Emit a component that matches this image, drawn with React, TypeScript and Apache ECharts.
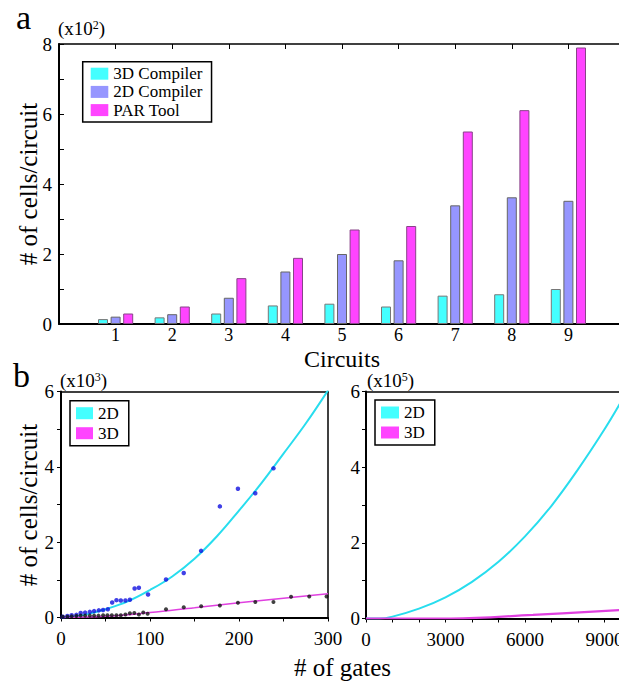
import React, { useEffect, useRef } from "react";
import * as echarts from "echarts";

// ---- Panel a: bar chart (values in x10^2 cells/circuit) ----
const circuits = ["1", "2", "3", "4", "5", "6", "7", "8", "9"];
const compiler3D = [0.14, 0.19, 0.3, 0.53, 0.58, 0.5, 0.81, 0.85, 1.0];
const compiler2D = [0.21, 0.28, 0.75, 1.5, 2.0, 1.82, 3.39, 3.62, 3.52];
const parTool = [0.3, 0.5, 1.31, 1.89, 2.7, 2.8, 5.5, 6.11, 7.9];
const topYLabels = [0, 2, 4, 6, 8];

// ---- Panel b left: measured points (x10^3 cells/circuit) ----
const gates2D = [1.9, 7.2, 12.0, 17.3, 22.1, 27.1, 32.4, 37.2, 42.5, 47.3, 52.6, 57.5, 62.3, 67.2, 72.4, 77.4, 82.7, 87.5, 97.8, 118, 137.9, 157.4, 178.5, 198.8, 218.3, 238.7];
const cells2D = [0.02, 0.04, 0.06, 0.07, 0.12, 0.13, 0.15, 0.17, 0.19, 0.2, 0.22, 0.4, 0.46, 0.45, 0.45, 0.47, 0.77, 0.79, 0.61, 1.01, 1.18, 1.77, 2.95, 3.42, 3.3, 3.96];
const gates3D = [1.9, 7.2, 12.0, 17.3, 22.1, 27.1, 32.4, 37.2, 42.1, 47.3, 52.2, 57.1, 62.3, 67.2, 72.4, 77.4, 82.4, 87.5, 92.4, 97.3, 118, 137.9, 157.5, 178.5, 198.8, 218.3, 238.7, 258.5, 278.9, 298.4];
const cells3D = [0.02, 0.02, 0.03, 0.04, 0.05, 0.05, 0.05, 0.05, 0.05, 0.06, 0.06, 0.06, 0.06, 0.06, 0.08, 0.11, 0.12, 0.08, 0.13, 0.1, 0.22, 0.27, 0.3, 0.32, 0.39, 0.41, 0.41, 0.55, 0.56, 0.56];
// fitted curves
const fitGates2DLeft = [0, 10, 30, 50, 75, 100, 125, 150, 175, 200, 225, 250, 275, 300];
const fitCells2DLeft = [0, 0.01, 0.09, 0.22, 0.43, 0.73, 1.09, 1.56, 2.15, 2.84, 3.56, 4.35, 5.15, 6.03];
const fitGates3DLeft = [0, 50, 100, 150, 200, 250, 300];
const fitCells3DLeft = [0, 0.03, 0.13, 0.26, 0.39, 0.51, 0.63];
const leftXLabels = [0, 100, 200, 300];
const bottomYLabels = [0, 2, 4, 6];

// ---- Panel b right: extrapolated curves (x10^5 cells/circuit) ----
const fitGates2DRight = [0, 500, 1000, 2000, 3000, 4000, 5000, 6000, 7000, 8000, 9000, 9700];
const fitCells2DRight = [0, 0, 0.05, 0.26, 0.56, 0.97, 1.5, 2.17, 2.98, 3.94, 5.0, 5.82];
const fitGates3DRight = [0, 3200, 6300, 9700];
const fitCells3DRight = [0, 0, 0.095, 0.23];
const rightXLabels = [0, 3000, 6000, 9000];

const FONT = "'Liberation Serif', 'Times New Roman', Times, serif";
const CYAN = "#44FFFF";
const LAV = "#9696FF";
const MAG = "#FF44FF";
const CYAN_LINE = "#28DDEE";
const MAG_LINE = "#E040E0";

const zip = (a: number[], b: number[]) => a.map((v, i) => [v, b[i]]);

export default function App() {
  const ref = useRef<HTMLDivElement>(null);
  useEffect(() => {
    if (!ref.current) return;
    const chart = echarts.init(ref.current, undefined, { renderer: "svg" });
    const lineAxis = { lineStyle: { color: "#000", width: 2 } };
    const lbl = (fmt: (v: any) => string, margin: number, size = 19) => ({
      fontFamily: FONT,
      fontSize: size,
      lineHeight: 16,
      color: "#000",
      margin,
      formatter: fmt,
    });
    const borderAxis = (grid: number, pos: string, type: string, extra: any = {}) => ({
      gridIndex: grid,
      position: pos,
      type,
      axisLine: { show: true, onZero: false, lineStyle: { color: "#000", width: 1.5 } },
      axisTick: { show: false },
      axisLabel: { show: false },
      splitLine: { show: false },
      ...extra,
    });
    const catData = ["", ...circuits, " "];
    const pad = (arr: number[]) => ["-", ...arr, "-"];
    const legendText = { fontFamily: FONT, fontSize: 17, color: "#000" };
    const supText = (x: number, y: number, exp: string) => ({
      type: "text",
      x,
      y,
      style: {
        text: `{a|(x10}{s|${exp}}{a|)}`,
        verticalAlign: "middle",
        align: "left",
        rich: {
          a: { fontFamily: FONT, fontSize: 19, fill: "#000", lineHeight: 19 },
          s: { fontFamily: FONT, fontSize: 12, fill: "#000", verticalAlign: "top", lineHeight: 12 },
        },
      },
    });
    const title = (text: string, x: number, y: number, rot = 0, size = 25) => ({
      type: "text",
      x,
      y,
      rotation: rot,
      style: { text, fontFamily: FONT, fontSize: size, lineHeight: 18, fill: "#000", align: "center", verticalAlign: "middle" },
    });
    const gridBase = { outerBoundsMode: "none", containLabel: false };

    chart.setOption({
      animation: false,
      backgroundColor: "#fff",
      grid: [
        { ...gridBase, left: 59, top: 44, width: 566, height: 280 },
        { ...gridBase, left: 61, top: 391.5, width: 267, height: 226 },
        { ...gridBase, left: 366, top: 391.5, width: 265, height: 227 },
      ],
      xAxis: [
        {
          gridIndex: 0,
          type: "category",
          data: catData,
          boundaryGap: false,
          position: "bottom",
          axisLine: lineAxis,
          axisTick: { show: false },
          axisLabel: lbl((v: string) => v, 2.5, 18),
          splitLine: { show: false },
        },
        borderAxis(0, "top", "category", {
          data: catData,
          boundaryGap: false,
          axisTick: { show: true, inside: true, length: 5, interval: 0, lineStyle: { color: "#000" } },
        }),
        {
          gridIndex: 1,
          type: "value",
          min: 0,
          max: 300,
          interval: 50,
          axisLine: { onZero: false, ...lineAxis },
          axisTick: { show: true, length: 4, lineStyle: { color: "#000" } },
          axisLabel: lbl((v: number) => (leftXLabels.includes(v) ? String(v) : ""), 13),
          splitLine: { show: false },
        },
        borderAxis(1, "top", "value", { min: 0, max: 300 }),
        {
          gridIndex: 2,
          type: "value",
          min: 0,
          max: 10000,
          interval: 1000,
          axisLine: { onZero: false, ...lineAxis },
          axisTick: { show: true, length: 4, lineStyle: { color: "#000" } },
          axisLabel: lbl((v: number) => (rightXLabels.includes(v) ? String(v) : ""), 13),
          splitLine: { show: false },
        },
        borderAxis(2, "top", "value", { min: 0, max: 10000 }),
      ],
      yAxis: [
        {
          gridIndex: 0,
          type: "value",
          min: 0,
          max: 8,
          interval: 1,
          axisLine: { show: true, ...lineAxis },
          axisTick: { show: true, inside: true, length: 5, lineStyle: { color: "#000" } },
          axisLabel: lbl((v: number) => (topYLabels.includes(v) ? String(v) : ""), 7),
          splitLine: { show: false },
        },
        borderAxis(0, "right", "value", {
          min: 0,
          max: 8,
          interval: 1,
          axisTick: { show: true, inside: true, length: 5, lineStyle: { color: "#000" } },
        }),
        {
          gridIndex: 1,
          type: "value",
          min: 0,
          max: 6,
          interval: 1,
          axisLine: { show: true, ...lineAxis },
          axisTick: { show: true, length: 4, lineStyle: { color: "#000" } },
          axisLabel: lbl((v: number) => (bottomYLabels.includes(v) ? String(v) : ""), 7),
          splitLine: { show: false },
        },
        borderAxis(1, "right", "value", { min: 0, max: 6 }),
        {
          gridIndex: 2,
          type: "value",
          min: 0,
          max: 6,
          interval: 1,
          axisLine: { show: true, ...lineAxis },
          axisTick: { show: true, length: 4, lineStyle: { color: "#000" } },
          axisLabel: lbl((v: number) => (bottomYLabels.includes(v) ? String(v) : ""), 6),
          splitLine: { show: false },
        },
        borderAxis(2, "right", "value", { min: 0, max: 6 }),
      ],
      legend: [
        {
          left: 82.7,
          top: 61.7,
          orient: "vertical",
          icon: "rect",
          itemWidth: 17.6,
          itemHeight: 12,
          itemGap: 1.2,
          padding: [3.5, 9, 3.5, 8],
          borderColor: "#000",
          borderWidth: 1.5,
          textStyle: legendText,
          selectedMode: false,
          data: [
            { name: "3D Compiler", itemStyle: { color: CYAN, borderWidth: 0 } },
            { name: "2D Compiler", itemStyle: { color: LAV, borderWidth: 0 } },
            { name: "PAR Tool", itemStyle: { color: MAG, borderWidth: 0 } },
          ],
        },
        {
          left: 70,
          top: 400.7,
          orient: "vertical",
          icon: "rect",
          itemWidth: 17,
          itemHeight: 12,
          itemGap: 3,
          padding: [4, 10, 4, 6],
          borderColor: "#000",
          borderWidth: 1.5,
          textStyle: legendText,
          selectedMode: false,
          data: [
            { name: "2D", itemStyle: { color: CYAN, borderWidth: 0 } },
            { name: "3D", itemStyle: { color: MAG, borderWidth: 0 } },
          ],
        },
        {
          left: 375,
          top: 400,
          orient: "vertical",
          icon: "rect",
          itemWidth: 18,
          itemHeight: 12,
          itemGap: 3,
          padding: [4, 10, 4, 6],
          borderColor: "#000",
          borderWidth: 1.5,
          textStyle: legendText,
          selectedMode: false,
          data: [
            { name: "2D", itemStyle: { color: CYAN, borderWidth: 0 } },
            { name: "3D", itemStyle: { color: MAG, borderWidth: 0 } },
          ],
        },
      ],
      series: [
        {
          name: "3D Compiler",
          type: "bar",
          xAxisIndex: 0,
          yAxisIndex: 0,
          barWidth: 10,
          barGap: "26%",
          data: pad(compiler3D),
          itemStyle: { color: CYAN, borderColor: "#777", borderWidth: 1 },
        },
        {
          name: "2D Compiler",
          type: "bar",
          xAxisIndex: 0,
          yAxisIndex: 0,
          barWidth: 10,
          barGap: "26%",
          data: pad(compiler2D),
          itemStyle: { color: LAV, borderColor: "#666", borderWidth: 1 },
        },
        {
          name: "PAR Tool",
          type: "bar",
          xAxisIndex: 0,
          yAxisIndex: 0,
          barWidth: 10,
          barGap: "26%",
          data: pad(parTool),
          itemStyle: { color: MAG, borderColor: "#884488", borderWidth: 1 },
        },
        {
          name: "2D",
          type: "line",
          xAxisIndex: 2,
          yAxisIndex: 2,
          data: zip(fitGates2DLeft, fitCells2DLeft),
          smooth: 0.4,
          showSymbol: false,
          itemStyle: { color: CYAN_LINE },
          lineStyle: { color: CYAN_LINE, width: 2 },
          z: 2,
        },
        {
          name: "3D",
          type: "line",
          xAxisIndex: 2,
          yAxisIndex: 2,
          data: zip(fitGates3DLeft, fitCells3DLeft),
          smooth: 0.4,
          showSymbol: false,
          itemStyle: { color: MAG_LINE },
          lineStyle: { color: MAG_LINE, width: 1.5 },
          z: 2,
        },
        {
          name: "2D points",
          type: "scatter",
          xAxisIndex: 2,
          yAxisIndex: 2,
          data: zip(gates2D, cells2D),
          symbolSize: 4.5,
          itemStyle: { color: "#1010E0" },
          z: 3,
        },
        {
          name: "3D points",
          type: "scatter",
          xAxisIndex: 2,
          yAxisIndex: 2,
          data: zip(gates3D, cells3D),
          symbolSize: 4,
          itemStyle: { color: "#111" },
          z: 3,
        },
        {
          name: "2D",
          type: "line",
          xAxisIndex: 4,
          yAxisIndex: 4,
          data: zip(fitGates2DRight, fitCells2DRight),
          smooth: 0.4,
          showSymbol: false,
          itemStyle: { color: CYAN_LINE },
          lineStyle: { color: CYAN_LINE, width: 2 },
        },
        {
          name: "3D",
          type: "line",
          xAxisIndex: 4,
          yAxisIndex: 4,
          data: zip(fitGates3DRight, fitCells3DRight),
          smooth: 0.4,
          showSymbol: false,
          itemStyle: { color: MAG_LINE },
          lineStyle: { color: MAG_LINE, width: 2.2 },
        },
      ],
      graphic: [
        { type: "text", x: 16, y: 17, style: { text: "a", fontFamily: FONT, fontSize: 34, fill: "#000", verticalAlign: "middle" } },
        { type: "text", x: 13, y: 375, style: { text: "b", fontFamily: FONT, fontSize: 34, fill: "#000", verticalAlign: "middle" } },
        supText(58, 28, "2"),
        supText(60, 380, "3"),
        supText(367, 380, "5"),
        title("# of cells/circuit", 28, 184, Math.PI / 2),
        title("# of cells/circuit", 28, 505, Math.PI / 2),
        title("Circuits", 342, 359, 0, 24),
        title("# of gates", 342.5, 667),
      ],
    });
    return () => chart.dispose();
  }, []);
  return <div ref={ref} style={{ position: "absolute", left: 0, top: 0, width: 619, height: 682 }} />;
}
